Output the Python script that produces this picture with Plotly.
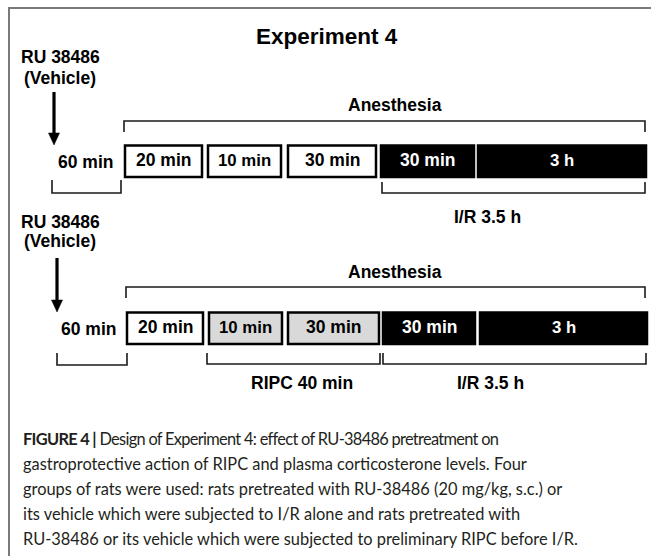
import plotly.graph_objects as go

# ---------------- data ----------------
title_text = "Experiment 4"
drug_label = ["RU 38486", "(Vehicle)"]
pre_label = "60 min"
anesthesia_label = "Anesthesia"
row1_labels = ["20 min", "10 min", "30 min", "30 min", "3 h"]
row1_kinds = ["pre", "pre", "pre", "ir", "ir"]
row2_labels = ["20 min", "10 min", "30 min", "30 min", "3 h"]
row2_kinds = ["pre", "ripc", "ripc", "ir", "ir"]
ir_label = "I/R 3.5 h"
ripc_label = "RIPC 40 min"
caption_lines = [
    "<span style='letter-spacing:-0.7px'><b>FIGURE 4 |</b> Design of Experiment 4: effect of RU-38486 pretreatment on</span>",
    "gastroprotective action of RIPC and plasma corticosterone levels. Four",
    "groups of rats were used: rats pretreated with RU-38486 (20 mg/kg, s.c.) or",
    "its vehicle which were subjected to I/R alone and rats pretreated with",
    "RU-38486 or its vehicle which were subjected to preliminary RIPC before I/R.",
]

# ---------------- layout geometry (pixels) ----------------
W, H = 651, 556
row1_box_x = [(125, 202), (208, 281), (288, 376), (381, 474), (478, 646)]
row2_box_x = [(127, 203), (209, 282), (288, 379), (383, 475), (480, 647)]
rows = [
    dict(labels=row1_labels, kinds=row1_kinds, box_x=row1_box_x, box_y=(145.5, 177),
         drug_y=(57, 78), arrow_x=54, arrow_y=(92, 145), pre_x=85, pre_y=162,
         pre_br=(52, 121, 180, 193), an_br=(124, 645, 121, 132), an_y=105,
         ir_br=(382, 645, 182, 193), ir_txt=(487, 217), ripc_br=None),
    dict(labels=row2_labels, kinds=row2_kinds, box_x=row2_box_x, box_y=(312.5, 344),
         drug_y=(222, 241), arrow_x=57, arrow_y=(258, 312), pre_x=88, pre_y=329,
         pre_br=(57, 127, 353, 365), an_br=(126, 645, 287, 298), an_y=272,
         ir_br=(383, 646, 353, 364), ir_txt=(490, 383),
         ripc_br=(207, 380, 353, 364), ripc_txt=(302, 383)),
]
fill_for = {"pre": "white", "ripc": "#d9d9d9", "ir": "black"}
text_for = {"pre": "black", "ripc": "black", "ir": "white"}

BOLD = "Liberation Sans, Arial, sans-serif"
CAP = "Lato, Liberation Sans, sans-serif"
LBL = 17.5

fig = go.Figure()
shapes = []
ann = []


def text(x, y, s, size=LBL, color="black", xanchor="center", family=BOLD, bold=True):
    ann.append(dict(x=x, y=y, xref="x", yref="y", text=(f"<b>{s}</b>" if bold else s),
                    showarrow=False, xanchor=xanchor, yanchor="middle",
                    font=dict(family=family, size=size, color=color)))


def bracket(x0, x1, yt, yb, up):
    # up=True: horizontal line at bottom (yb) with ticks rising to yt
    if up:
        path = f"M {x0},{yt} L {x0},{yb} L {x1},{yb} L {x1},{yt}"
    else:
        path = f"M {x0},{yb} L {x0},{yt} L {x1},{yt} L {x1},{yb}"
    shapes.append(dict(type="path", path=path, xref="x", yref="y",
                       line=dict(color="#1a1a1a", width=1.6)))


# frame (top + left edges) as one open path
shapes.append(dict(type="path", path=f"M 9,{H + 40} L 9,8 L {W + 40},8", xref="x", yref="y",
                   line=dict(color="#7a7a7a", width=2)))

text(327, 36, title_text, size=22.5)

for r in rows:
    # drug label and arrow
    text(60, r["drug_y"][0], drug_label[0])
    text(60, r["drug_y"][1], drug_label[1])
    ax = r["arrow_x"]
    ya, yb = r["arrow_y"]
    shapes.append(dict(type="line", x0=ax, x1=ax, y0=ya, y1=yb - 10, xref="x", yref="y",
                       line=dict(color="black", width=3.2)))
    shapes.append(dict(type="path", path=f"M {ax-5.5},{yb-12} L {ax+5.5},{yb-12} L {ax},{yb} Z",
                       xref="x", yref="y", fillcolor="black", line=dict(color="black", width=0.5)))
    # pre-treatment period
    text(r["pre_x"], r["pre_y"], pre_label)
    x0, x1, yt, yb2 = r["pre_br"]
    bracket(x0, x1, yt, yb2, up=True)
    # anesthesia
    x0, x1, yt, yb2 = r["an_br"]
    bracket(x0, x1, yt, yb2, up=False)
    text(395, r["an_y"], anesthesia_label)
    # boxes
    by0, by1 = r["box_y"]
    for (bx0, bx1), lab, kind in zip(r["box_x"], r["labels"], r["kinds"]):
        shapes.append(dict(type="rect", x0=bx0, x1=bx1, y0=by0, y1=by1, xref="x", yref="y",
                           fillcolor=fill_for[kind], line=dict(color="black", width=2.5)))
        text((bx0 + bx1) / 2, (by0 + by1) / 2 - 1, lab,
             size=(16.8 if lab in ("10 min", "3 h") else LBL), color=text_for[kind])
    # I/R bracket
    x0, x1, yt, yb2 = r["ir_br"]
    bracket(x0, x1, yt, yb2, up=True)
    text(r["ir_txt"][0], r["ir_txt"][1], ir_label)
    if r["ripc_br"]:
        x0, x1, yt, yb2 = r["ripc_br"]
        bracket(x0, x1, yt, yb2, up=True)
        text(r["ripc_txt"][0], r["ripc_txt"][1], ripc_label)

# caption
cap_y0, cap_dy = 438, 25
for i, line in enumerate(caption_lines):
    text(21, cap_y0 + i * cap_dy, line, size=16.4, color="#231f20", xanchor="left",
         family=CAP, bold=False)

fig.update_layout(
    width=W, height=H, autosize=False,
    margin=dict(l=0, r=0, t=0, b=0),
    paper_bgcolor="white", plot_bgcolor="white",
    xaxis=dict(range=[0, W], visible=False, fixedrange=True),
    yaxis=dict(range=[H, 0], visible=False, fixedrange=True),
    shapes=shapes, annotations=ann, showlegend=False,
)

fig.write_html("out.html", config={"displayModeBar": False, "staticPlot": True},
               post_script="document.body.style.margin='0';document.body.style.padding='0';document.body.style.overflow='hidden';")
